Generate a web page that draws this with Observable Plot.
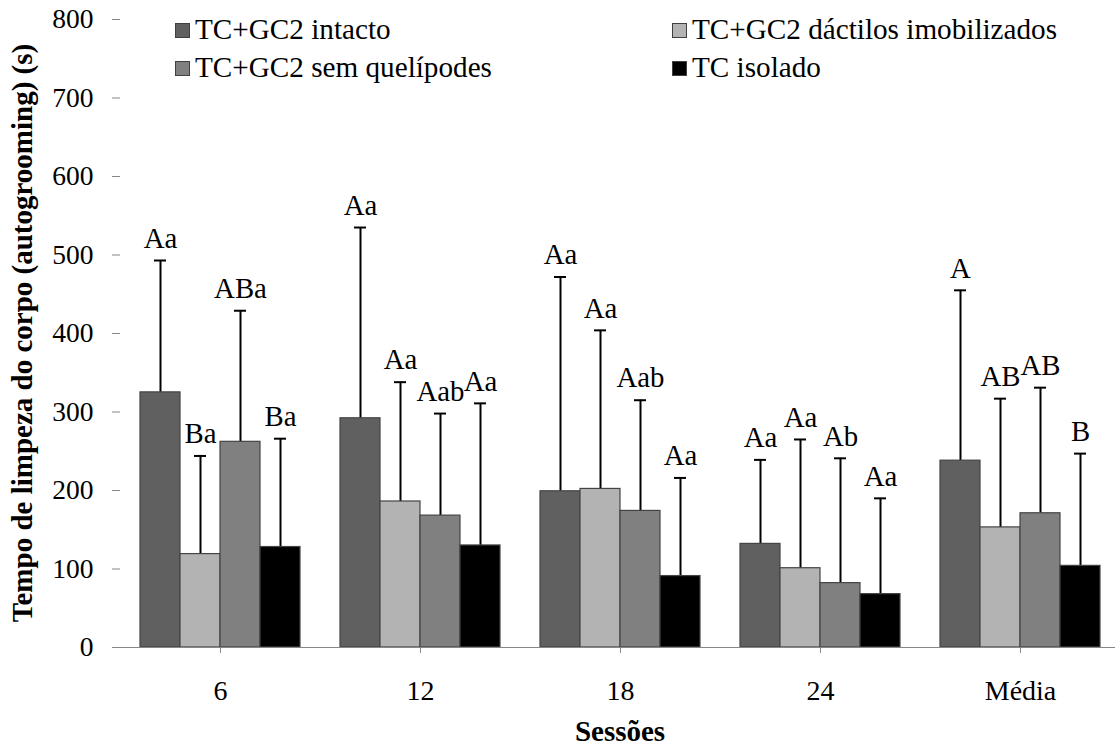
<!DOCTYPE html>
<html><head><meta charset="utf-8">
<script src="https://cdn.jsdelivr.net/npm/d3@7"></script>
<script src="https://cdn.jsdelivr.net/npm/@observablehq/plot@0.6"></script>
<style>
body{margin:0;background:#fff;}
#wrap{position:relative;width:1115px;height:746px;overflow:hidden;font-family:'Liberation Serif','Times New Roman',serif;color:#000;}
#wrap svg{position:absolute;left:0;top:0;}
#wrap svg text{font-family:'Liberation Serif','Times New Roman',serif;}
.lg{position:absolute;display:flex;align-items:center;font-family:'Liberation Serif','Times New Roman',serif;font-size:29.2px;white-space:nowrap;line-height:1;}
.sw{width:13px;height:13px;border:1px solid #404040;margin-right:5px;}
.ttl{position:absolute;font-family:'Liberation Serif','Times New Roman',serif;font-weight:bold;font-size:29px;white-space:nowrap;line-height:1;}
</style></head><body><div id="wrap"></div><script>
const sessions = ["6", "12", "18", "24", "Média"];
const series = ["TC+GC2 intacto", "TC+GC2 dáctilos imobilizados", "TC+GC2 sem quelípodes", "TC isolado"];
const colors = ["#606060", "#b3b3b3", "#808080", "#000000"];
const intactoMean = [325, 292, 199, 132, 238];
const intactoErr  = [168, 243, 273, 107, 217];
const dactilosMean = [119, 186, 202, 101, 153];
const dactilosErr  = [125, 152, 202, 164, 164];
const semMean = [262, 168, 174, 82, 171];
const semErr  = [167, 130, 141, 159, 160];
const isoladoMean = [128, 130, 91, 68, 104];
const isoladoErr  = [138, 181, 125, 122, 143];
const intactoLab = ["Aa", "Aa", "Aa", "Aa", "A"];
const dactilosLab = ["Ba", "Aa", "Aa", "Aa", "AB"];
const semLab = ["ABa", "Aab", "Aab", "Ab", "AB"];
const isoladoLab = ["Ba", "Aa", "Aa", "Aa", "B"];
const yTicks = [0, 100, 200, 300, 400, 500, 600, 700, 800];
const yTitle = "Tempo de limpeza do corpo (autogrooming) (s)";
const xTitle = "Sessões";

const FONT = "'Liberation Serif', 'Times New Roman', serif";
const means = [intactoMean, dactilosMean, semMean, isoladoMean];
const errs = [intactoErr, dactilosErr, semErr, isoladoErr];
const labs = [intactoLab, dactilosLab, semLab, isoladoLab];
const data = [];
sessions.forEach((s, i) => series.forEach((g, j) => {
  data.push({session: s, series: g, mean: means[j][i], upper: means[j][i] + errs[j][i], label: labs[j][i]});
}));

const chart = Plot.plot({
  width: 1115, height: 746,
  marginTop: 19, marginBottom: 99, marginLeft: 119, marginRight: -6,
  style: `font-family: ${FONT}; background: transparent; overflow: visible; color: #000;`,
  fx: {domain: sessions, padding: 0, label: null},
  x: {domain: series, paddingInner: 0, paddingOuter: 0.485, axis: null},
  y: {domain: [0, 800], axis: null},
  color: {domain: series, range: colors},
  marks: [
    Plot.axisY({ticks: yTicks, tickSize: 8, tickPadding: 19, fontSize: 27.5, fontFamily: FONT, stroke: "#868686", fill: "#000", label: null, line: true}),
    Plot.axisFx({anchor: "bottom", tickSize: 6, tickPadding: 27, fontSize: 28, fontFamily: FONT, stroke: "#868686", fill: "#000", label: null}),
    Plot.ruleX(data, {fx: "session", x: "series", y1: "mean", y2: "upper", stroke: "#000", strokeWidth: 2}),
    Plot.tickY(data, {fx: "session", x: "series", y: "upper", stroke: "#000", strokeWidth: 2, insetLeft: 14, insetRight: 14}),
    Plot.barY(data, {fx: "session", x: "series", y: "mean", fill: "series", stroke: "#444", strokeWidth: 1.2}),
    Plot.ruleY([0], {stroke: "#868686", strokeWidth: 1.2}),
    Plot.text(data, {fx: "session", x: "series", y: "upper", text: "label", dy: -22, fontSize: 28.8, fontFamily: FONT, fill: "#000"})
  ]
});
const wrap = document.getElementById("wrap");
wrap.appendChild(chart);

// legend
const legendPos = [[175, 30], [672, 30], [175, 68], [672, 68]];
[0, 1, 2, 3].forEach((j, k) => {
  const el = document.createElement("div");
  el.className = "lg";
  el.style.left = legendPos[k][0] + "px";
  el.style.top = (legendPos[k][1] - 15) + "px";
  el.style.height = "30px";
  const sw = document.createElement("span");
  sw.className = "sw";
  sw.style.background = colors[j];
  const tx = document.createElement("span");
  tx.textContent = series[j];
  el.appendChild(sw); el.appendChild(tx);
  wrap.appendChild(el);
});
// axis titles
const yt = document.createElement("div");
yt.className = "ttl"; yt.textContent = yTitle;
yt.style.left = "22px"; yt.style.top = "333px";
yt.style.transform = "translate(-50%,-50%) rotate(-90deg)";
wrap.appendChild(yt);
const xt = document.createElement("div");
xt.className = "ttl"; xt.textContent = xTitle;
xt.style.left = "620px"; xt.style.top = "731px";
xt.style.transform = "translate(-50%,-50%)";
wrap.appendChild(xt);
</script></body></html>
